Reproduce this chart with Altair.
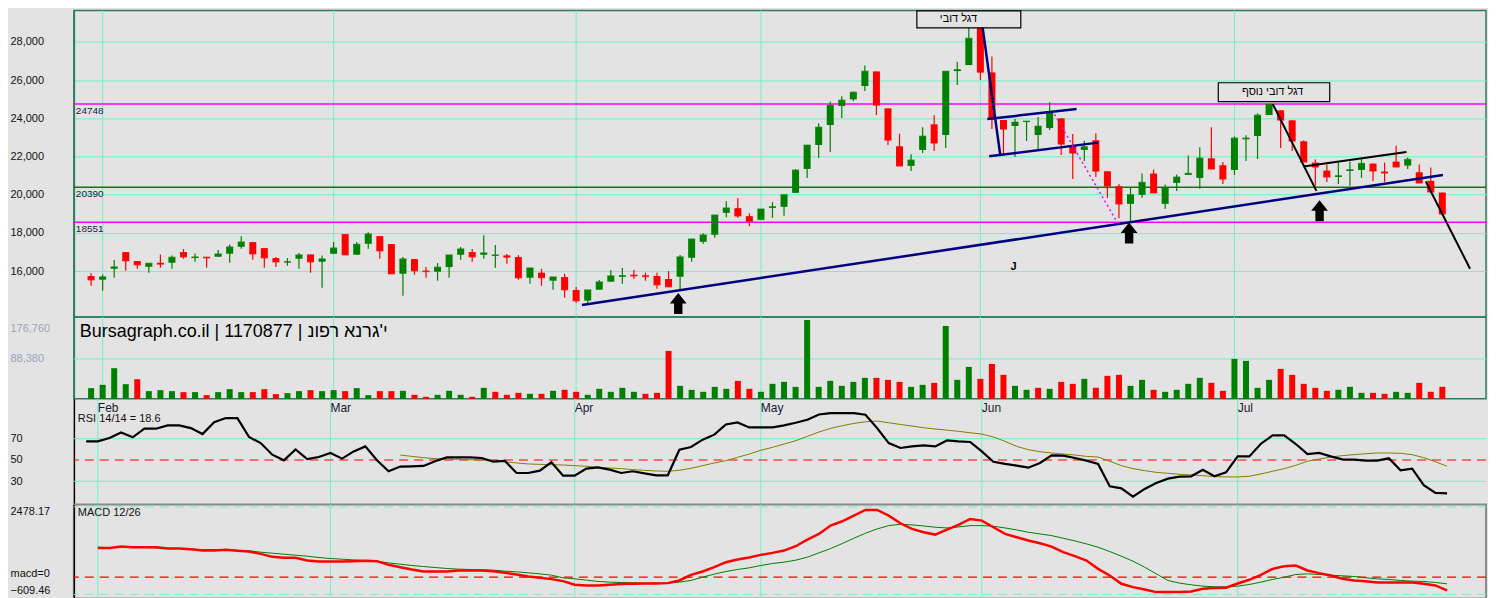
import altair as alt
import pandas as pd

# ---------------- data ----------------
opens = [15739,15547,16122,16993,16523,16226,16435,16435,16993,16679,
         16749,16749,16906,17272,17516,17202,16679,16453,16645,16871,
         16488,16906,17934,16854,17428,17829,17411,15861,16627,16017,
         15965,16209,16854,16993,16854,16801,16819,16732,15652,15913,
         15495,15686,15007,14450,15024,15443,15704,15808,15774,15739,
         15582,15704,16697,17533,17899,19048,19292,18874,18683,19310,
         19362,20094,21348,22602,23647,24640,24988,25685,26452,24518,
         22533,21505,22341,23682,23125,26470,26783,28908,26400,23909,
         23595,23804,23125,23491,23996,22602,22341,22846,21226,20442,
         19519,19989,21104,19519,20616,21034,20878,21905,21540,21296,
         22898,23072,24170,24414,23891,22794,21679,21261,20930,21243,
         21296,21627,21208,21731,21522,21174,20721,20111]
highs = [15895,15826,16575,16993,16523,16400,16871,16819,17150,16923,
         16749,17097,17393,17829,17516,17202,16732,16679,16941,16871,
         16819,17516,17934,17516,18038,17829,17411,16732,16627,16209,
         16418,16836,17254,17150,17881,17359,16888,16836,16157,16122,
         15686,15861,15164,15007,15530,16052,16157,16052,15913,15913,
         16000,16836,17672,17986,18927,19658,19815,19031,19240,19606,
         19989,21331,22585,23734,24884,25146,25407,26766,26452,24518,
         23194,22114,23525,24153,26452,26957,28856,28908,27236,23909,
         23961,23839,24065,24832,23996,23177,22829,23212,21226,20564,
         20355,21104,21313,20529,21052,22045,22480,23525,21714,23055,
         23107,24257,24727,24414,23891,22846,21836,21574,21679,21731,
         21923,21627,21679,22567,21941,21574,21418,20111]
lows = [15233,14972,15652,16017,16122,15913,16174,16122,16645,16488,
        16174,16749,16435,17167,16592,16174,16209,16279,16122,15913,
        15129,16906,16854,16854,17167,16645,15861,14711,15808,15652,
        15495,15652,16592,16488,16645,16174,16383,15547,15338,15233,
        15024,14606,14345,14345,15024,15443,15338,15599,15495,15077,
        15181,15024,16488,17428,17742,18822,18787,18352,18683,18787,
        18892,20094,20878,21923,22229,24013,24901,25424,24170,22602,
        21505,21243,22184,22289,22445,25738,26783,25999,23438,22132,
        21975,22811,22393,23386,22080,20825,21766,20930,19832,18770,
        18578,19832,20094,19257,20198,21034,20303,21348,20564,21034,
        21766,21870,24170,22445,22289,21714,20460,20669,20564,20460,
        20878,20721,20669,21453,21348,20616,20146,18996]
closes = [15547,15686,16209,16540,16331,16400,16366,16714,16749,16732,
          16697,16888,17254,17516,16906,16697,16488,16488,16836,16488,
          16627,17202,16854,17393,17934,17063,15861,16627,16017,15983,
          16192,16836,17150,16749,16941,16836,16732,15652,16157,15660,
          15686,15024,14450,15007,15425,15739,15756,15756,15721,15286,
          15181,16732,17672,17881,18927,19292,18892,18613,19240,19362,
          19989,21278,22585,23525,24675,24936,25354,26452,24692,22863,
          21505,21801,23055,22707,26452,26539,28177,26417,23961,23438,
          23787,23839,23578,24257,22654,22184,22498,21243,20460,19519,
          19989,20634,20094,20355,20912,21104,21905,21348,20825,22951,
          22951,24153,24727,23909,22811,21714,21453,20930,20982,21296,
          21627,21243,21139,21453,21836,20616,20146,18996]
volumes = [23640,30930,67830,32480,43530,17010,19220,17010,14800,14800,
           8180,14800,21430,14800,14800,21430,10380,12590,17010,19220,
           17010,19220,17010,23640,8180,17010,17010,17680,8840,4420,
           8840,17680,8840,4420,24300,15470,8840,13260,11050,11050,
           17680,19890,15470,8840,22100,15470,24300,15470,11050,13260,
           106060,28720,19890,15470,26510,22100,39770,22100,15470,33140,
           37560,26510,174550,26510,39770,28720,37560,46400,46400,41980,
           37560,26510,30930,35350,161290,41980,70700,44190,77330,53030,
           28720,19890,24300,22100,37560,33140,44190,24300,50820,53030,
           28720,41980,19890,15470,19890,33140,46400,35350,17680,88380,
           83960,24300,41980,66290,53030,33140,24300,17680,19890,26510,
           13260,13260,11050,15470,13260,35350,15470,26510]
vol_up = [1,1,1,1,0,1,1,1,0,1, 0,1,1,1,0,0,0,1,1,0,
          1,1,0,1,1,0,0,1,0,0, 1,1,1,0,1,0,0,0,1,0,
          1,0,0,1,1,1,1,1,0,0, 0,1,1,1,1,1,0,0,1,1,
          1,1,1,1,1,1,1,1,0,0, 0,1,1,0,1,1,1,0,0,0,
          1,1,0,1,0,0,1,0,0,0, 1,1,0,1,1,1,1,0,0,1,
          1,1,1,0,0,0,0,0,1,1, 1,0,0,1,1,0,0,0]
rsi = [67.5,67.5,70.6,75.9,71.3,79.4,79.4,82.5,82.5,80.0,
       74.4,85.6,89.4,89.4,71.6,65.9,55.0,49.7,60.0,50.9,
       52.8,56.6,51.3,58.1,62.8,49.7,39.4,43.8,44.1,44.4,
       48.8,52.5,52.5,52.5,51.9,48.4,49.1,37.8,37.8,40.0,
       47.8,35.3,35.3,41.9,43.1,40.9,37.8,39.4,37.5,35.6,
       35.6,59.7,62.2,69.1,73.8,83.4,85.3,80.6,80.6,80.6,
       82.5,85.0,87.8,92.8,94.1,94.1,94.1,92.5,80.0,65.9,
       61.3,62.8,63.8,62.8,68.4,67.5,66.9,58.1,48.4,46.3,
       44.7,42.8,47.2,54.4,54.1,51.9,49.4,46.3,25.3,23.4,
       15.6,22.8,28.4,32.5,34.4,34.7,40.9,34.7,38.4,53.4,
       53.4,65.3,73.1,73.1,65.0,55.6,56.6,53.4,50.6,50.3,
       49.4,49.4,51.6,40.3,41.9,26.3,19.1,18.6]
rsi_signal = [None] * 27 + [
       54.7,53.4,52.2,51.3,50.9,50.6,50.3,50.0,49.4,48.4,
       47.2,46.3,45.9,45.6,45.3,44.7,44.1,43.1,42.5,41.9,
       40.9,40.3,39.7,39.4,40.3,42.2,44.7,47.2,49.4,52.5,
       55.6,59.1,61.9,65.0,68.1,72.2,76.3,79.7,82.2,84.4,
       85.9,86.6,85.0,83.4,81.9,80.3,79.1,78.1,76.9,75.6,
       74.4,71.6,67.5,62.8,59.7,57.8,56.6,55.6,54.7,53.4,
       52.8,48.8,44.7,41.9,40.0,38.4,37.5,36.6,35.9,35.3,
       34.4,34.1,34.1,34.7,36.9,39.4,41.9,45.0,48.8,50.9,
       52.8,54.1,55.0,55.9,56.6,56.6,56.3,55.0,52.2,48.4,44.1]
macd = [None] + [
       1032,1032,1079,1056,1056,1056,1009,1009,985,938,
       938,962,927,903,821,716,680,680,587,551,
       551,551,563,575,563,434,352,270,199,199,
       199,235,235,235,211,152,94,23,-23,-70,
       -141,-270,-293,-293,-270,-246,-235,-223,-223,-211,
       -117,82,199,352,528,622,692,786,856,938,
       1091,1325,1525,1818,1971,2170,2369,2369,2170,1900,
       1701,1584,1501,1677,1842,2053,1994,1760,1525,1408,
       1290,1196,1079,880,739,587,293,59,-235,-352,
       -434,-528,-528,-528,-504,-411,-387,-375,-223,-94,
       82,293,387,411,235,141,59,-59,-117,-141,
       -188,-188,-188,-188,-235,-293,-469]
macd_signal = [None] + [
       1056,1044,1044,1044,1044,1032,1021,1009,985,974,
       974,962,950,927,880,845,809,774,739,692,
       657,633,610,587,563,504,457,411,375,340,
       305,282,270,258,246,211,188,152,117,70,
       -23,-59,-106,-152,-176,-188,-199,-211,-211,-211,
       -176,-117,0,106,199,270,328,411,481,528,
       598,704,856,1009,1185,1372,1548,1701,1818,1865,
       1842,1806,1760,1736,1771,1818,1818,1795,1736,1666,
       1584,1525,1466,1372,1279,1173,1056,903,739,563,
       352,117,-117,-211,-270,-317,-340,-340,-317,-258,
       -176,-82,0,94,117,94,70,47,23,-23,
       -59,-82,-117,-141,-152,-188,-235]

months = ["Feb", "Mar", "Apr", "May", "Jun", "Jul"]
month_index = [1, 21, 42, 58, 77, 99]

price_ticks = [16000, 18000, 20000, 22000, 24000, 26000, 28000]
magenta_levels = [24748, 18551]
green_levels = [20390]

# drawn annotation lines: name, start (bar index, price), end (bar index, price)
navy_names = ["trend", "flag1_pole", "flag1_top", "flag1_bottom"]
navy_start = [(42.5, 14224), (77.16, 28906), (77.6, 23958), (77.76, 22009)]
navy_end = [(117.05, 21032), (78.73, 22045), (85.33, 24480), (87.2, 22725)]
dotted_names = ["path"]
dotted_start = [(83.42, 24203)]
dotted_end = [(88.74, 18665)]
black_names = ["flag2_pole", "flag2_top", "breakdown"]
black_start = [(102.32, 24742), (104.98, 21471), (115.57, 20687)]
black_end = [(106.1, 20196), (113.9, 22234), (119.4, 16120)]

arrow_index = [50.84, 89.88, 106.37]
arrow_price = [14302, 17996, 19161]

box_texts = ["דגל דובי", "דגל דובי נוסף"]
box_i0 = [71.5, 97.6]
box_i1 = [80.5, 107.25]
box_p_top = [29620, 25860]
box_p_bottom = [28733, 24867]
box_text_i = [75.1, 102.3]
box_text_p = [29200, 25353]

TITLE_LATIN = "Bursagraph.co.il | 1170877 | "
TITLE_NAME = "נופר אנרג'י"
# the source program draws the Hebrew name glyph by glyph left to right
TITLE = TITLE_LATIN + TITLE_NAME[::-1]

# ---------------- styling ----------------
AQUA = "#6cf3c6"
UP = "#008000"
DOWN = "#ff0000"
FONT = "Liberation Sans"
BG = "#e3e3e3"
W = 1415
XDOM = [-1.06, 120.35]

n = len(closes)
df = pd.DataFrame({
    "i": list(range(n)), "o": opens, "h": highs, "l": lows, "c": closes,
    "vol": volumes, "rsi": rsi, "rsi_sig": rsi_signal,
    "macd": macd, "macd_sig": macd_signal,
})
df["dir"] = ["up" if c >= o else "down" for o, c in zip(opens, closes)]
df["vdir"] = ["up" if u else "down" for u in vol_up]

months_df = pd.DataFrame({"i": month_index, "m": months})


def seg_df(names, starts, ends):
    rows = []
    for nm, s, e in zip(names, starts, ends):
        rows.append({"seg": nm, "i": s[0], "p": s[1]})
        rows.append({"seg": nm, "i": e[0], "p": e[1]})
    return pd.DataFrame(rows)


def X(field="i"):
    return alt.X(f"{field}:Q", scale=alt.Scale(domain=XDOM, nice=False, zero=False), axis=None)


color_scale = alt.Scale(domain=["up", "down"], range=[UP, DOWN])
ccol = alt.Color("dir:N", scale=color_scale, legend=None)


def axis(values, color="#111111", domain_color="#000000", **kw):
    return alt.Axis(values=values, title=None, ticks=False, tickSize=0,
                    labelAlign="left", labelPadding=64, labelFont=FONT,
                    labelFontSize=11, labelColor=color, domainColor=domain_color,
                    domainWidth=1.5, minExtent=65, maxExtent=65, labelBound=False,
                    labelFlush=False, **kw)


# ---------------- price panel ----------------
price_scale = alt.Scale(domain=[13596, 29637], nice=False, zero=False)
price_axis = axis(price_ticks, domain_color="#2b7d5e", format=",d", grid=True,
                  gridColor=AQUA, gridWidth=1, gridOpacity=1)


def YP(field):
    return alt.Y(f"{field}:Q", scale=price_scale, axis=price_axis)


month_rules = alt.Chart(months_df).mark_rule(color=AQUA, strokeWidth=1).encode(x=X())

lev_mag = alt.Chart(pd.DataFrame({"level": magenta_levels})).mark_rule(
    color="#ff00ff", strokeWidth=1.5).encode(y=YP("level"))
lev_green = alt.Chart(pd.DataFrame({"level": green_levels})).mark_rule(
    color="#1d6e1d", strokeWidth=1.5).encode(y=YP("level"))
all_levels = magenta_levels + green_levels
lev_text = alt.Chart(pd.DataFrame({"level": all_levels, "label": [str(v) for v in all_levels]})).mark_text(
    align="left", baseline="top", dy=2, font=FONT, fontSize=10, color="#202048").encode(
    x=alt.value(2), y=YP("level"), text="label:N")

wicks = alt.Chart(df).mark_rule(strokeWidth=1.2).encode(x=X(), y=YP("l"), y2="h:Q", color=ccol)
bodies = alt.Chart(df).mark_bar(size=7).encode(x=X(), y=YP("o"), y2="c:Q", color=ccol)
closes_tick = alt.Chart(df).mark_tick(size=7, thickness=1.5, orient="horizontal").encode(
    x=X(), y=YP("c"), color=ccol)

navy_lines = alt.Chart(seg_df(navy_names, navy_start, navy_end)).mark_line(
    color="#000080", strokeWidth=2.5).encode(x=X(), y=YP("p"), detail="seg:N")
dotted_lines = alt.Chart(seg_df(dotted_names, dotted_start, dotted_end)).mark_line(
    color="#ff00ff", strokeWidth=1.5, strokeDash=[2, 3]).encode(x=X(), y=YP("p"), detail="seg:N")
black_lines = alt.Chart(seg_df(black_names, black_start, black_end)).mark_line(
    color="#000000", strokeWidth=2).encode(x=X(), y=YP("p"), detail="seg:N")

ARROW = "M0,-1L0.8,0L0.4,0L0.4,1L-0.4,1L-0.4,0L-0.8,0Z"
arrows = alt.Chart(pd.DataFrame({"i": arrow_index, "p": arrow_price})).mark_point(
    shape=ARROW, filled=True, color="#000000", size=441, opacity=1, strokeWidth=0).encode(
    x=X(), y=YP("p"))

boxes = alt.Chart(pd.DataFrame({"i0": box_i0, "i1": box_i1, "p0": box_p_top, "p1": box_p_bottom})).mark_rect(
    fill=BG, stroke="#000000", strokeWidth=1.2).encode(x=X("i0"), x2="i1:Q", y=YP("p0"), y2="p1:Q")
box_labels = alt.Chart(pd.DataFrame({"i": box_text_i, "p": box_text_p, "t": box_texts})).mark_text(
    font=FONT, fontSize=11, color="#000000").encode(x=X(), y=YP("p"), text="t:N")
j_mark = alt.Chart(pd.DataFrame({"i": [79.88], "p": [16209], "t": ["J"]})).mark_text(
    font=FONT, fontSize=11, fontWeight="bold", color="#000000").encode(x=X(), y=YP("p"), text="t:N")

price = alt.layer(
    month_rules, lev_mag, lev_green, lev_text, wicks, bodies, closes_tick,
    navy_lines, dotted_lines, black_lines, arrows, boxes, box_labels, j_mark
).properties(width=W, height=307,
             view=alt.ViewBackground(stroke="#2b7d5e", strokeWidth=1.5))

# ---------------- volume panel ----------------
vol_scale = alt.Scale(domain=[0, 181200], nice=False, zero=True)
vol_axis = axis([88380, 176760], color="#9aa3b8", domain_color="#2b7d5e", format=",d",
                grid=False,
                labelOffset={"condition": {"test": "datum.value > 100000", "value": 10}, "value": 0})


def YV(field):
    return alt.Y(f"{field}:Q", scale=vol_scale, axis=vol_axis)


vol_grid = alt.Chart(pd.DataFrame({"v": [88380]})).mark_rule(color=AQUA, strokeWidth=1).encode(y=YV("v"))
vol_bars = alt.Chart(df).mark_bar(size=6).encode(
    x=X(), y=YV("vol"), color=alt.Color("vdir:N", scale=color_scale, legend=None))
title_txt = alt.Chart(pd.DataFrame({"t": [TITLE]})).mark_text(
    align="left", baseline="middle", font=FONT, fontSize=18, color="#000000").encode(
    x=alt.value(6), y=alt.value(15), text="t:N")

volume = alt.layer(month_rules, vol_grid, vol_bars, title_txt).properties(
    width=W, height=82, view=alt.ViewBackground(stroke="#2b7d5e", strokeWidth=1.5))

# ---------------- RSI panel ----------------
rsi_scale = alt.Scale(domain=[8.1, 107.5], nice=False, zero=False)
rsi_axis = axis([30, 50, 70], grid=False)


def YR(field):
    return alt.Y(f"{field}:Q", scale=rsi_scale, axis=rsi_axis)


rsi_grid = alt.Chart(pd.DataFrame({"v": [30, 70]})).mark_rule(color=AQUA, strokeWidth=1).encode(y=YR("v"))
rsi_mid = alt.Chart(pd.DataFrame({"v": [50]})).mark_rule(
    color="#ff0000", strokeWidth=1.2, strokeDash=[9, 6]).encode(y=YR("v"))
rsi_sig_line = alt.Chart(df).mark_line(color="#808000", strokeWidth=1).encode(x=X(), y=YR("rsi_sig"))
rsi_line = alt.Chart(df).mark_line(color="#000000", strokeWidth=2.2).encode(x=X(), y=YR("rsi"))
month_labels = alt.Chart(months_df).mark_text(
    align="left", baseline="middle", font=FONT, fontSize=12, color="#1a1a2e").encode(
    x=X(), y=alt.value(9), text="m:N")
rsi_title = alt.Chart(pd.DataFrame({"t": ["RSI 14/14 = 18.6"]})).mark_text(
    align="left", baseline="middle", font=FONT, fontSize=11, color="#111111").encode(
    x=alt.value(4), y=alt.value(20), text="t:N")

rsi_panel = alt.layer(month_rules, rsi_grid, rsi_mid, rsi_sig_line, rsi_line, month_labels, rsi_title).properties(
    width=W, height=106, view=alt.ViewBackground(stroke="transparent"))

# ---------------- MACD panel ----------------
macd_scale = alt.Scale(domain=[-750, 2559], nice=False, zero=False)
macd_axis = axis([-609.46, 0, 2478.17], grid=False,
                 labelExpr="datum.value == 0 ? 'macd=0' : format(datum.value, '.2f')",
                 labelOffset={"condition": {"test": "datum.value > 1000", "value": 5}, "value": -4})


def YM(field):
    return alt.Y(f"{field}:Q", scale=macd_scale, axis=macd_axis)


macd_bounds = alt.Chart(pd.DataFrame({"v": [2478.17, -609.46]})).mark_rule(
    color=AQUA, strokeWidth=1, strokeDash=[9, 6]).encode(y=YM("v"))
macd_zero = alt.Chart(pd.DataFrame({"v": [0]})).mark_rule(
    color="#ff0000", strokeWidth=1.2, strokeDash=[9, 6]).encode(y=YM("v"))
macd_sig_line = alt.Chart(df).mark_line(color="#008000", strokeWidth=1).encode(x=X(), y=YM("macd_sig"))
macd_line = alt.Chart(df).mark_line(color="#ff0000", strokeWidth=2.5).encode(x=X(), y=YM("macd"))
macd_title = alt.Chart(pd.DataFrame({"t": ["MACD 12/26"]})).mark_text(
    align="left", baseline="middle", font=FONT, fontSize=11, color="#111111").encode(
    x=alt.value(4), y=alt.value(8), text="t:N")

macd_panel = alt.layer(month_rules, macd_bounds, macd_zero, macd_sig_line, macd_line, macd_title).properties(
    width=W, height=94, view=alt.ViewBackground(stroke="#8a8a8a", strokeWidth=2))

chart = alt.vconcat(price, volume, rsi_panel, macd_panel, spacing=0, bounds="flush").properties(
    padding=0, background=BG
).configure_view(stroke="transparent")

chart.save("out.html", embed_options={"renderer": "svg", "actions": False})
